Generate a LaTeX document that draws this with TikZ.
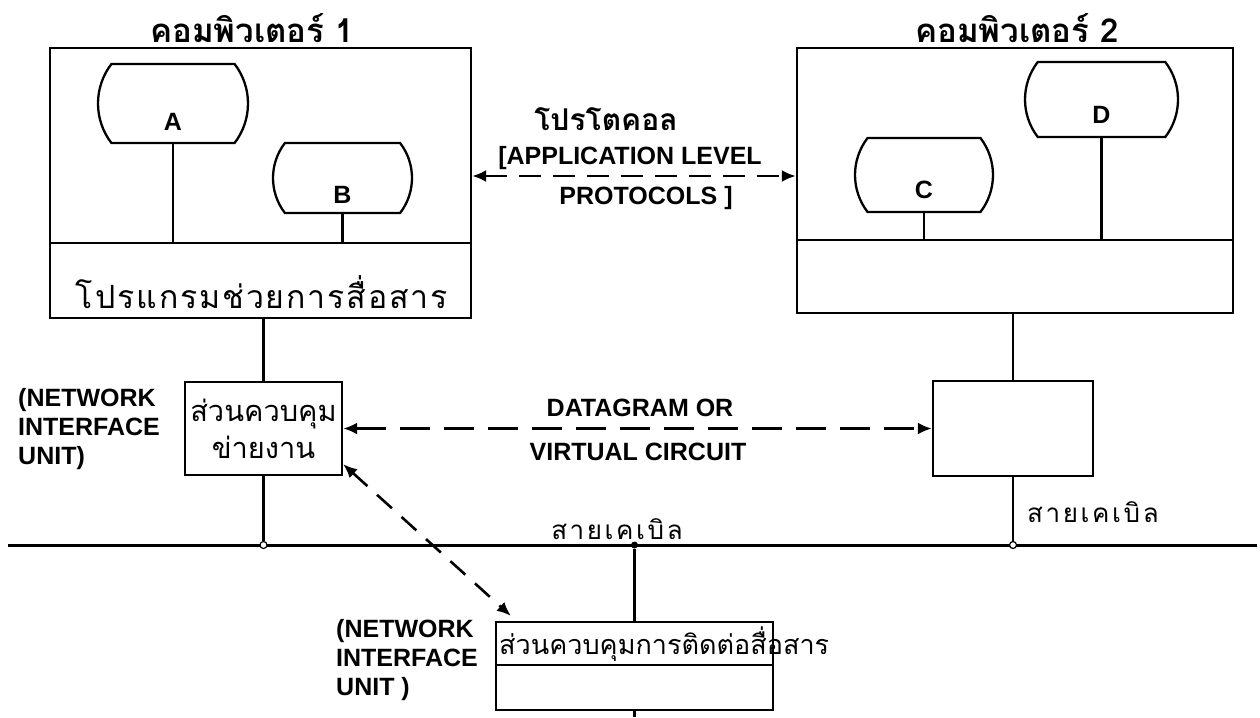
\documentclass[tikz,border=0pt]{standalone}
\usepackage{fontspec}
\setmainfont{Liberation Sans}
\newfontfamily\thai[Script=Thai]{Loma}
\usetikzlibrary{arrows.meta,shapes.misc,calc}
\begin{document}
\begin{tikzpicture}[x=1pt,y=-1pt,
  >={Latex[length=14pt,width=12pt]},
  lw/.style={line width=2.3pt},
  box/.style={draw,line width=2.3pt,rectangle,inner sep=0pt},
  proc/.style={draw,line width=2.3pt,rounded rectangle,rounded rectangle arc length=75,inner sep=0pt},
  en/.style={font=\fontsize{25}{29}\selectfont\bfseries,inner sep=0pt},
  thtitle/.style={font=\thai\bfseries\fontsize{33}{36}\selectfont,inner sep=0pt},
  thtext/.style={font=\thai\fontsize{27}{36}\selectfont,inner sep=0pt},
  junc/.style={circle,draw,fill=white,line width=1.2pt,minimum size=7pt,inner sep=0pt},
  darrow/.style={line width=2.6pt,dash pattern=on 22pt off 12pt,<->},
  harrow/.style={line width=2.6pt,dash pattern=on 30pt off 14pt,<->},
]
\useasboundingbox (0,0) rectangle (1260,717);
\fill[white] (0,0) rectangle (1260,717);

% computers
\node[box,minimum width=421pt,minimum height=270pt] (comp1) at (260.5,183) {};
\node[box,minimum width=436pt,minimum height=265pt] (comp2) at (1015,180.5) {};
\coordinate (d1) at (0,243);
\coordinate (d2) at (0,240);
\draw[lw] (comp1.west |- d1) -- (comp1.east |- d1);
\draw[lw] (comp2.west |- d2) -- (comp2.east |- d2);

\node[thtitle] (t1) at (252,28) {คอมพิวเตอร์ 1};
\node[thtitle] (t2) at (1017,28) {คอมพิวเตอร์ 2};

% processes
\node[proc,minimum width=150pt,minimum height=79pt] (A) at (173,103.5) {};
\node[en] (la) at ($(A.center)+(0,18)$) {A};
\node[proc,minimum width=139pt,minimum height=70pt] (B) at (342.5,178) {};
\node[en] (lb) at ($(B.center)+(0,17)$) {B};
\node[proc,minimum width=138pt,minimum height=74pt] (C) at (924,175) {};
\node[en] (lc) at ($(C.center)+(0,15)$) {C};
\node[proc,minimum width=153pt,minimum height=75pt] (D) at (1101.5,99.5) {};
\node[en] (ld) at ($(D.center)+(0,15)$) {D};
\draw[lw] (A.south) -- (A.south |- d1);
\draw[lw] (B.south) -- (B.south |- d1);
\draw[lw] (C.south) -- (C.south |- d2);
\draw[lw] (D.south) -- (D.south |- d2);

\node[thtext,font=\thai\fontsize{32}{36}\selectfont\addfontfeature{LetterSpace=6}] (prog) at (262,292) {โปรแกรมช่วยการสื่อสาร};

% protocol labels
\node[thtext,font=\thai\bfseries\fontsize{30}{32}\selectfont,text depth=0pt,anchor=base] (pth) at (606,130) {โปรโตคอล};
\node[en] (pen1) at (630,158) {[APPLICATION LEVEL};
\node[en] (pen2) at (646,198) {PROTOCOLS ]};
\coordinate (pa) at (0,176);
\draw[darrow] (comp1.east |- pa) -- (comp2.west |- pa);

% network interface units
\node[box,minimum width=157pt,minimum height=93pt,align=center,font=\thai\fontsize{29}{37}\selectfont] (niu1) at (263.5,428.5) {ส่วนควบคุม\\ข่ายงาน};
\node[box,minimum width=160pt,minimum height=95pt] (niu2) at (1013,428.5) {};
\node[box,minimum width=277pt,minimum height=88pt] (niu3) at (634.5,666) {};
\coordinate (d3) at (0,665);
\draw[lw] (niu3.west |- d3) -- (niu3.east |- d3);
\node[thtext,anchor=west] (n3t) at (499,644) {ส่วนควบคุมการติดต่อสื่อสาร};

\node[en,align=left,anchor=west] (nl1) at (18,429) {(NETWORK\\INTERFACE\\UNIT)};
\node[en,align=left,anchor=west] (nl2) at (336,660) {(NETWORK\\INTERFACE\\UNIT )};

\node[en] (dg1) at (640,408) {DATAGRAM OR};
\node[en] (dg2) at (638,452) {VIRTUAL CIRCUIT};
\draw[harrow] (niu1.east) -- (niu2.west);

% cable
\coordinate (cl) at (8,545);
\coordinate (cr) at (1257,545);
\draw[line width=3pt] (cl) -- (cr);
\draw[lw] (niu1.north) -- (niu1.north |- comp1.south);
\draw[lw] (niu2.north) -- (niu2.north |- comp2.south);
\node[junc] (j1) at (niu1.south |- cl) {};
\node[junc] (j2) at (niu2.south |- cl) {};
\node[circle,fill,minimum size=7pt,inner sep=0pt] (j3) at (niu3.north |- cl) {};
\draw[lw] (niu1.south) -- (j1);
\draw[lw] (niu2.south) -- (j2);
\draw[lw] (niu3.north) -- (j3);
\coordinate (stub) at (634.5,717);
\draw[lw] (niu3.south) -- (stub);

\node[thtext,font=\thai\fontsize{26}{30}\selectfont\addfontfeature{LetterSpace=10}] (cab1) at (617,529) {สายเคเบิล};
\node[thtext,anchor=west,font=\thai\fontsize{26}{30}\selectfont\addfontfeature{LetterSpace=10}] (cab2) at (1027,512) {สายเคเบิล};

\draw[line width=2.6pt,dash pattern=on 20pt off 13pt,<->] ($(niu1.south east)+(0,-12)$) -- ($(niu3.north west)+(16,-5)$);
\end{tikzpicture}
\end{document}
